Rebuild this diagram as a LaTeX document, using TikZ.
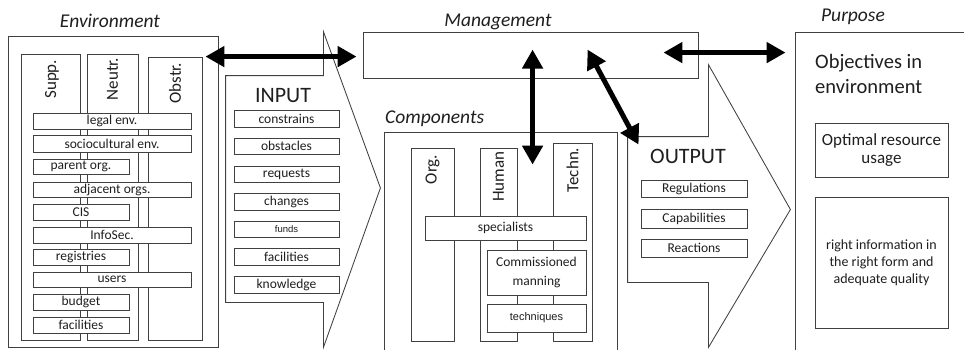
\documentclass[tikz,border=0pt]{standalone}
\usepackage{fontspec}
\setmainfont{Carlito}
\newfontfamily\arialfont{Liberation Sans}
\usetikzlibrary{arrows.meta,calc}

\newcommand\fs[2]{\fontsize{#1}{#2}\selectfont}
% \rectnode[style]{name}{x1}{y1}{x2}{y2}{text};
\newcommand\rectnode[6][]{\node[panel,minimum width={(#5)-(#3)},minimum height={(#6)-(#4)},#1] (#2) at ({((#3)+(#5))/2},{((#4)+(#6))/2})}

\begin{document}
\begin{tikzpicture}[x=1pt,y=-1pt,
  line/.style={draw=black!75, line width=0.85pt},
  panel/.style={line, rectangle, inner sep=0pt, fill=white, text=black!88, font=\fs{13.5}{16}},
  ghost/.style={rectangle, inner sep=0pt, draw=none, fill=none},
  heading/.style={font=\fs{19.5}{22}\itshape, text=black!88, inner sep=0pt},
  collabel/.style={font=\fs{17}{19}, text=black!88, inner sep=0pt, rotate=90, anchor=east},
  biglabel/.style={font=\fs{22}{24}, text=black!88, inner sep=0pt, anchor=base},
  bigarrow/.style={line width=5pt, draw=black, {Triangle[length=19pt,width=20pt]}-{Triangle[length=19pt,width=20pt]}},
]
\clip (0,0) rectangle (964,349);
\fill[white] (0,0) rectangle (964,349);

% ---------------- Environment ----------------
\node[heading, anchor=base] (envh) at (110,27) {Environment};
\rectnode{env}{8}{36}{218}{347} {};
\rectnode{supp}{21}{54}{80}{340} {};
\rectnode{neutr}{87}{54}{138}{340} {};
\rectnode{obstr}{148}{57}{202}{340} {};
\node[collabel] at ([xshift=1.5pt,yshift=-6pt]supp.north) {Supp.};
\node[collabel] at ([xshift=0pt,yshift=-4pt]neutr.north) {Neutr.};
\node[collabel] at ([xshift=0pt,yshift=-6pt]obstr.north) {Obstr.};

\rectnode{legal}{33}{113}{191}{129} {legal env.};
\rectnode{socio}{33}{135}{191}{152} {sociocultural env.};
\rectnode{parent}{33}{159}{129}{174} {parent org.};
\rectnode{adjacent}{33}{182}{191}{197} {adjacent orgs.};
\rectnode{cis}{33}{204}{129}{220} {CIS};
\rectnode{infosec}{33}{227}{191}{243} {InfoSec.};
\rectnode{registries}{33}{249}{129}{265} {registries};
\rectnode{users}{33}{272}{191}{287} {users};
\rectnode{budget}{33}{294}{129}{310} {budget};
\rectnode{envfac}{33}{317}{129}{333} {facilities};

% ---------------- Input arrow ----------------
\rectnode[ghost]{inbody}{226}{76}{323}{302} {};
\draw[line, fill=white] (inbody.south west) -- (inbody.north west) -- (inbody.north east)
  -- ++(0,-44) -- ($(inbody.east)+(57,-1)$) -- ($(inbody.south east)+(0,45)$)
  -- (inbody.south east) -- cycle;
\node[biglabel] (inputlbl) at (283,102) {INPUT};
\rectnode{constrains}{234}{110}{339}{127} {constrains};
\rectnode{obstacles}{234}{138}{339}{154} {obstacles};
\rectnode{requests}{234}{166}{339}{182} {requests};
\rectnode{changes}{234}{193}{339}{210} {changes};
\rectnode[font=\arialfont\fs{9.5}{11}]{funds}{234}{221}{339}{237} {funds};
\rectnode{infac}{234}{248}{339}{265} {facilities};
\rectnode{knowledge}{234}{276}{339}{293} {knowledge};

% ---------------- Management ----------------
\node[heading, anchor=base] (mgmth) at (498,26) {Management};
\rectnode{mgmt}{363}{32}{698}{78} {};

% ---------------- Components ----------------
\node[heading, anchor=base west] (comph) at (385,123) {Components};
\rectnode[fill=none]{comp}{384}{132}{617}{370} {};
\rectnode{org}{411}{148}{454}{341} {};
\rectnode{human}{480}{148}{517}{341} {};
\rectnode{techn}{553}{143}{592}{341} {};
\node[collabel] at ([yshift=-7pt]org.north) {Org.};
\node[collabel] at ([yshift=-4pt]human.north) {Human};
\node[collabel] at ([yshift=-5pt]techn.north) {Techn.};
\rectnode{specialists}{425}{216}{586}{240} {specialists};
\rectnode[align=center, font=\fs{13.5}{19}]{manning}{487}{250}{586}{295} {Commissioned\\manning};
\rectnode[font=\arialfont\fs{11}{13}]{techniques}{487}{304}{586}{332} {techniques};

% ---------------- Output arrow ----------------
\rectnode[ghost]{outbody}{628}{137}{708}{282} {};
\draw[line, fill=white] (outbody.south west) -- (outbody.north west) -- (outbody.north east)
  -- ++(0,-72) -- ($(outbody.east)+(82,0)$) -- ($(outbody.south east)+(0,65)$)
  -- (outbody.south east) -- cycle;
\node[biglabel] (outputlbl) at (688,163) {OUTPUT};
\rectnode{regulations}{641}{180}{747}{197} {Regulations};
\rectnode{capabilities}{641}{209}{747}{228} {Capabilities};
\rectnode{reactions}{641}{239}{747}{257} {Reactions};

% ---------------- Purpose ----------------
\node[heading, anchor=base] (purph) at (853,21) {Purpose};
\rectnode{purpose}{795}{32}{980}{370} {};
\node[font=\fs{20.5}{25}, text=black!88, inner sep=0pt, align=left, anchor=base west] (objectives) at (815,93) {Objectives in\\environment};
\rectnode[align=center, font=\fs{17}{18}]{optimal}{815}{123}{948}{177} {Optimal resource\\usage};
\rectnode[align=center, font=\fs{14}{17}]{rightinfo}{815}{197}{948}{328} {right information in\\the right form and\\adequate quality};

% ---------------- Links between the parts ----------------
\draw[bigarrow] ($(env.north east)+(-13,21)$) -- ($(mgmt.north west)+(-6,25)$);
\draw[bigarrow] ($(mgmt.north east)+(-35,21)$) -- ($(purpose.north west)+(-9,21)$);
\draw[bigarrow] ($(mgmt.north west)+(170,18)$) -- ($(comp.north west)+(149,33)$);
\draw[bigarrow] ($(mgmt.north west)+(225,18)$) -- ($(outbody.north west)+(11,8)$);
\end{tikzpicture}
\end{document}
